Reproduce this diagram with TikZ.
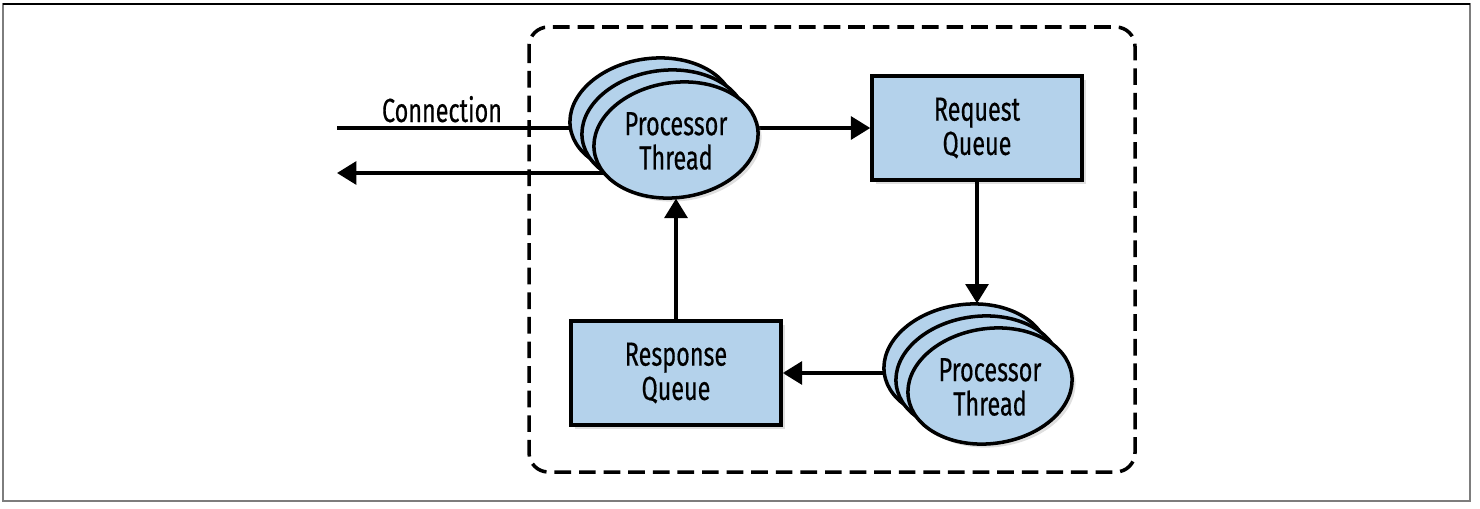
\documentclass[tikz,border=0pt]{standalone}
\usepackage{fontspec}
\setmainfont{Fira Sans}[FakeStretch=0.7,FakeBold=0.4]
\usetikzlibrary{shapes,arrows.meta,shadows}
\definecolor{q_blue}{RGB}{180, 210, 235}
\definecolor{frame_grey}{RGB}{125, 125, 125}
\tikzstyle{thr}=[ellipse,fill=q_blue,draw=black,line width=2pt,rotate=8,
  inner sep=0pt,minimum width=3.3cm,minimum height=2.3cm,
  drop shadow={opacity=0.25,shadow xshift=2pt,shadow yshift=-2pt}]
\tikzstyle{que}=[rectangle,fill=q_blue,draw=black,line width=2pt,align=center,
  minimum width=4.2cm,minimum height=2.08cm,font=\fontsize{19}{19.5}\selectfont,
  drop shadow={opacity=0.25,shadow xshift=2pt,shadow yshift=-2pt}]
\tikzstyle{lbl}=[align=center,inner sep=0pt,font=\fontsize{19}{19.5}\selectfont]
\tikzstyle{arr}=[line width=2pt,-{Triangle[length=11pt,width=13pt]}]
\pgfdeclarelayer{bg}
\pgfsetlayers{bg,main}

\begin{document}
\begin{tikzpicture}[x=0.02cm,y=-0.02cm]
    \useasboundingbox (0,0) rectangle (1480,508);
    \draw[frame_grey,line width=1.2pt] (3,4) rectangle (1470,501);
    \draw[line width=1.2pt] (3,4) -- (1470,4);
    \draw[line width=2pt,dash pattern=on 9.5pt off 4.5pt,rounded corners=11pt]
      (529,27) rectangle (1135,472);
    \coordinate (conin) at (337,128);
    \coordinate (conout) at (337,173);
    \node [style=lbl,anchor=base] (conlbl) at (442,122) {Connection};
    \node [style=thr] (pt1a) at (652,116) {};
    \node [style=thr] (pt1b) at (664,128) {};
    \node [style=thr] (pt1c) at (676,140) {};
    \node [style=lbl] (pt1t) at (676,141) {Processor\\Thread};
    \node [style=que] (rq) at (977,128) {Request\\Queue};
    \node [style=thr] (pt2a) at (966,362) {};
    \node [style=thr] (pt2b) at (978,374) {};
    \node [style=thr] (pt2c) at (990,386) {};
    \node [style=lbl] (pt2t) at (990,387) {Processor\\Thread};
    \node [style=que] (resp) at (676,373) {Response\\Queue};
    \begin{pgfonlayer}{bg}
      \draw[line width=2pt] (conin) to (conin -| pt1a.center);
      \draw[arr] (conout -| pt1a.center) to (conout);
      \draw[arr] (pt1c.center |- rq.west) to (rq.west);
      \draw[arr] (pt2a.center |- resp.east) to (resp.east);
    \end{pgfonlayer}
    \draw[arr] (rq.south) to (rq.south |- pt2a.north);
    \draw[arr] (resp.north) to (resp.north |- pt1c.south);
  \end{tikzpicture}
\end{document}
